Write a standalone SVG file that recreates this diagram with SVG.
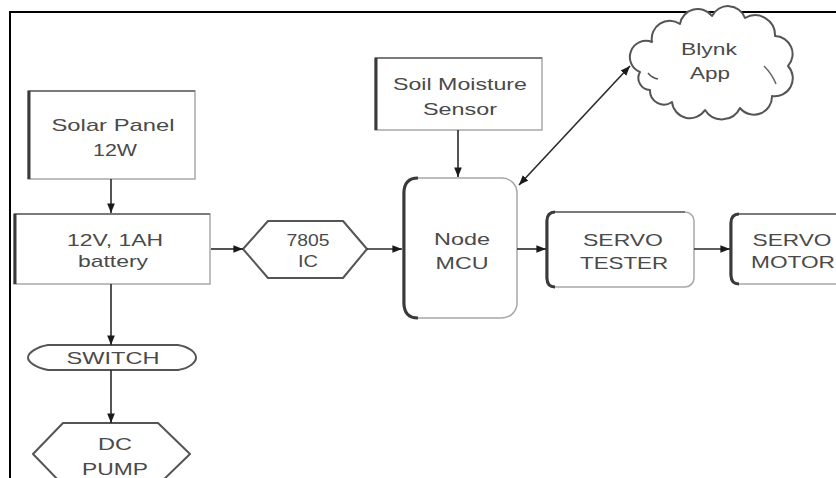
<svg xmlns="http://www.w3.org/2000/svg" width="836" height="478" viewBox="0 0 836 478">
  <style>
    .box { fill: #ffffff; stroke: #a8a8a8; stroke-width: 1.5; }
    .edgeL { stroke: #3a3a3a; stroke-width: 3; fill: none; }
    .edgeT { stroke: #7a7a7a; stroke-width: 2; fill: none; }
    .shape { fill: #ffffff; stroke: #555555; stroke-width: 2; stroke-linejoin: round; }
    .label { font-family: "Liberation Sans", Arial, sans-serif; font-size: 17px; fill: #4a4a4a; text-anchor: middle; }
    .wire { stroke: #2a2a2a; stroke-width: 1.6; fill: none; }
    .frame { stroke: #000000; stroke-width: 2; fill: none; }
  </style>
  <defs>
    <marker id="head" viewBox="0 0 10 10" refX="10" refY="5" markerWidth="6" markerHeight="6" orient="auto-start-reverse" markerUnits="strokeWidth">
      <path d="M0,1 L10,5 L0,9 Z" fill="#1a1a1a"/>
    </marker>
  </defs>

  <rect width="836" height="478" fill="#ffffff"/>

  <!-- page frame -->
  <path class="frame" d="M10,478 L10,12 L836,12"/>

  <!-- solar panel -->
  <g id="solar-panel">
    <rect class="box" x="28" y="91" width="167" height="88"/>
    <path class="edgeT" d="M28,91 L195,91"/>
    <path class="edgeL" d="M29,91 L29,179"/>
    <text class="label" x="113" y="131" textLength="123" lengthAdjust="spacingAndGlyphs">Solar Panel</text>
    <text class="label" x="115" y="156" textLength="44" lengthAdjust="spacingAndGlyphs">12W</text>
  </g>

  <!-- battery -->
  <g id="battery">
    <rect class="box" x="14" y="214" width="196" height="70"/>
    <path class="edgeT" d="M14,214 L210,214"/>
    <path class="edgeL" d="M15,214 L15,284"/>
    <text class="label" x="115" y="246" textLength="96" lengthAdjust="spacingAndGlyphs">12V, 1AH</text>
    <text class="label" x="113" y="267" textLength="70" lengthAdjust="spacingAndGlyphs">battery</text>
  </g>

  <!-- 7805 regulator -->
  <g id="regulator-7805">
    <path class="shape" d="M243,249 L268,221 L343,221 L367,249 L343,278 L268,278 Z"/>
    <text class="label" x="308" y="246" textLength="43" lengthAdjust="spacingAndGlyphs">7805</text>
    <text class="label" x="308" y="267" textLength="20" lengthAdjust="spacingAndGlyphs">IC</text>
  </g>

  <!-- soil moisture sensor -->
  <g id="soil-sensor">
    <rect class="box" x="375" y="58" width="167" height="72"/>
    <path class="edgeT" d="M375,58 L542,58"/>
    <path class="edgeL" d="M376,58 L376,130"/>
    <text class="label" x="460" y="90" textLength="134" lengthAdjust="spacingAndGlyphs">Soil Moisture</text>
    <text class="label" x="460" y="115" textLength="74" lengthAdjust="spacingAndGlyphs">Sensor</text>
  </g>

  <!-- node mcu -->
  <g id="node-mcu">
    <rect class="box" x="403" y="178" width="114" height="140" rx="15"/>
    <path class="edgeL" d="M418,178 Q404,178 404,193 L404,303 Q404,318 418,318"/>
    <text class="label" x="462" y="245" textLength="56" lengthAdjust="spacingAndGlyphs">Node</text>
    <text class="label" x="462" y="269" textLength="53" lengthAdjust="spacingAndGlyphs">MCU</text>
  </g>

  <!-- blynk cloud -->
  <g id="blynk-app">
    <path class="shape" stroke="#3a3a3a" d="M640,72 A16,16 0 0 1 652,42 A18,18 0 0 1 680,24 A18,18 0 0 1 712,16 A18,18 0 0 1 745,18 A20,20 0 0 1 775,36 A18,18 0 0 1 788,66 A18,18 0 0 1 772,96 A18,18 0 0 1 740,108 A20,20 0 0 1 705,110 A18,18 0 0 1 672,102 A14,14 0 0 1 650,90 A12,12 0 0 1 640,72 Z"/>
    <path d="M764,66 Q772,74 776,84" stroke="#666" stroke-width="1.5" fill="none"/>
    <path d="M648,73 Q652,78 658,79" stroke="#555" stroke-width="1.5" fill="none"/>
    <text class="label" x="709" y="55" textLength="56" lengthAdjust="spacingAndGlyphs">Blynk</text>
    <text class="label" x="710" y="79" textLength="40" lengthAdjust="spacingAndGlyphs">App</text>
  </g>

  <!-- servo tester -->
  <g id="servo-tester">
    <rect class="box" x="546" y="212" width="148" height="75" rx="9"/>
    <path class="edgeL" d="M555,212 Q547,212 547,221 L547,278 Q547,287 555,287"/>
    <path class="edgeT" d="M555,212 L685,212"/>
    <text class="label" x="623" y="246" textLength="80" lengthAdjust="spacingAndGlyphs">SERVO</text>
    <text class="label" x="624" y="269" textLength="88" lengthAdjust="spacingAndGlyphs">TESTER</text>
  </g>

  <!-- servo motor -->
  <g id="servo-motor">
    <rect class="box" x="730" y="214" width="140" height="70" rx="9"/>
    <path class="edgeL" d="M739,214 Q731,214 731,223 L731,275 Q731,284 739,284"/>
    <path class="edgeT" d="M739,214 L836,214"/>
    <text class="label" x="792" y="246" textLength="79" lengthAdjust="spacingAndGlyphs">SERVO</text>
    <text class="label" x="793" y="268" textLength="84" lengthAdjust="spacingAndGlyphs">MOTOR</text>
  </g>

  <!-- switch -->
  <g id="switch">
    <path class="shape" d="M48,345 L178,345 C190,347 196,353 196,357.5 C196,362 190,368 178,370 L48,370 C36,368 28,362 28,357.5 C28,353 36,347 48,345 Z"/>
    <text class="label" x="113" y="364" textLength="93" lengthAdjust="spacingAndGlyphs">SWITCH</text>
  </g>

  <!-- dc pump -->
  <g id="dc-pump">
    <path class="shape" d="M33,454 L63,423 L158,423 L190,454 L158,485 L63,485 Z"/>
    <text class="label" x="115" y="450" textLength="34" lengthAdjust="spacingAndGlyphs">DC</text>
    <text class="label" x="115" y="475" textLength="66" lengthAdjust="spacingAndGlyphs">PUMP</text>
  </g>

  <!-- connectors -->
  <g id="connectors">
    <path class="wire" marker-end="url(#head)" d="M111,179 L111,213"/>
    <path class="wire" marker-end="url(#head)" d="M111,284 L111,345"/>
    <path class="wire" marker-end="url(#head)" d="M111,370 L111,423"/>
    <path class="wire" marker-end="url(#head)" d="M211,249 L243,249"/>
    <path class="wire" marker-end="url(#head)" d="M367,249 L402,249"/>
    <path class="wire" marker-end="url(#head)" d="M458,130 L458,177"/>
    <path class="wire" marker-end="url(#head)" d="M517,249 L546,249"/>
    <path class="wire" marker-end="url(#head)" d="M694,249 L730,249"/>
    <path class="wire" marker-start="url(#head)" marker-end="url(#head)" d="M519,185 L630,66"/>
  </g>
</svg>
